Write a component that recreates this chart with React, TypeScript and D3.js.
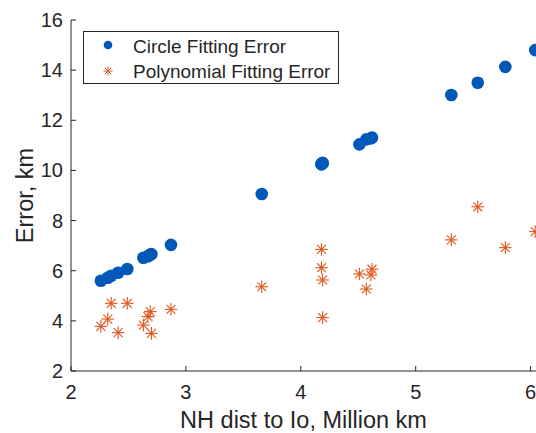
import React from "react";
import * as d3 from "d3";

// Distance of New Horizons to Io (million km) for each observation
const distance = [
  2.26, 2.32, 2.35, 2.41, 2.49, 2.63, 2.67, 2.69, 2.7, 2.87, 3.66, 4.18, 4.18,
  4.19, 4.19, 4.51, 4.57, 4.61, 4.62, 5.31, 5.54, 5.78, 6.04,
];
// Circle fitting error (km)
const circleError = [
  5.6, 5.72, 5.8, 5.92, 6.07, 6.52, 6.58, 6.64, 6.66, 7.03, 9.06, 10.24, 10.26,
  10.3, 10.28, 11.04, 11.24, 11.28, 11.31, 13.01, 13.5, 14.13, 14.8,
];
// Polynomial fitting error (km)
const polyError = [
  3.78, 4.07, 4.7, 3.53, 4.7, 3.83, 4.17, 4.37, 3.5, 4.46, 5.36, 6.85, 6.12,
  5.63, 4.13, 5.87, 5.27, 5.83, 6.06, 7.23, 8.55, 6.92, 7.56,
];

const xTicks = [2, 3, 4, 5, 6];
const yTicks = [2, 4, 6, 8, 10, 12, 14, 16];
const seriesNames = ["Circle Fitting Error", "Polynomial Fitting Error"];

const W = 536;
const H = 433;
const left = 71;
const right = 536;
const top = 20;
const bottom = 371;

const BLUE = "#0058B8";
const ORANGE = "#E0561C";
const AXIS = "#262626";
const FONT = "'Liberation Sans', Arial, Helvetica, sans-serif";

function Star({ cx, cy, r, sw }: { cx: number; cy: number; r: number; sw: number }) {
  const d = r * 0.7071;
  return (
    <g stroke={ORANGE} strokeWidth={sw} fill="none">
      <line x1={cx - r} y1={cy} x2={cx + r} y2={cy} />
      <line x1={cx} y1={cy - r} x2={cx} y2={cy + r} />
      <line x1={cx - d} y1={cy - d} x2={cx + d} y2={cy + d} />
      <line x1={cx - d} y1={cy + d} x2={cx + d} y2={cy - d} />
    </g>
  );
}

export default function App() {
  const x = d3.scaleLinear().domain([2, 6.047]).range([left, right]);
  const y = d3.scaleLinear().domain([2, 16]).range([bottom, top]);

  return (
    <svg
      width={W}
      height={H}
      style={{ position: "absolute", left: 0, top: 0, background: "#fff" }}
      fontFamily={FONT}
    >
      <rect width={W} height={H} fill="#fff" />

      {/* data */}
      {distance.map((d, i) => (
        <circle key={"c" + i} cx={x(d)} cy={y(circleError[i])} r={6.3} fill={BLUE} />
      ))}
      {distance.map((d, i) => (
        <Star key={"s" + i} cx={x(d)} cy={y(polyError[i])} r={6.3} sw={1.1} />
      ))}

      {/* axes */}
      <line x1={left} y1={bottom} x2={right} y2={bottom} stroke={AXIS} strokeWidth={1} />
      <line x1={left} y1={bottom} x2={left} y2={top} stroke={AXIS} strokeWidth={1} />
      {xTicks.map((t) => (
        <g key={"xt" + t}>
          <line x1={x(t)} y1={bottom} x2={x(t)} y2={bottom - 5} stroke={AXIS} />
          <text x={x(t)} y={bottom + 28} textAnchor="middle" fontSize={20} fill={AXIS}>
            {t}
          </text>
        </g>
      ))}
      {yTicks.map((t) => (
        <g key={"yt" + t}>
          <line x1={left} y1={y(t)} x2={left + 5} y2={y(t)} stroke={AXIS} />
          <text x={left - 8} y={y(t) + 7} textAnchor="end" fontSize={20} fill={AXIS}>
            {t}
          </text>
        </g>
      ))}

      {/* axis titles */}
      <text x={(left + right) / 2} y={428} textAnchor="middle" fontSize={23.5} fill={AXIS}>
        NH dist to Io, Million km
      </text>
      <text
        transform={`translate(33,${(top + bottom) / 2}) rotate(-90)`}
        textAnchor="middle"
        fontSize={23.5}
        fill={AXIS}
      >
        Error, km
      </text>

      {/* legend */}
      <rect x={83.5} y={31.5} width={255} height={52} fill="#fff" stroke={AXIS} strokeWidth={1} />
      <circle cx={108} cy={45} r={4.3} fill={BLUE} />
      <Star cx={108} cy={71} r={4.5} sw={1} />
      <text x={133} y={52.5} fontSize={19} fill={AXIS}>
        {seriesNames[0]}
      </text>
      <text x={133} y={78} fontSize={19} fill={AXIS}>
        {seriesNames[1]}
      </text>
    </svg>
  );
}
